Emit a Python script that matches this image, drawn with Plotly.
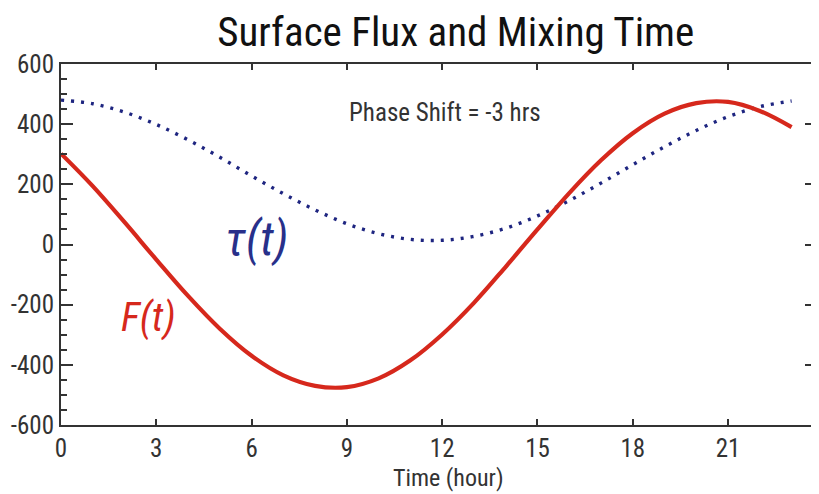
import plotly.graph_objects as go

hours = list(range(0, 24))
flux = [302, 194, 74, -50, -171, -280, -370, -435, -470, -474, -445, -385,
        -299, -194, -74, 50, 171, 280, 370, 435, 470, 474, 444, 390]
tau = [480, 468, 440, 399, 348, 290, 228, 169, 115, 69, 36, 17,
       14, 27, 54, 95, 146, 204, 265, 325, 379, 425, 458, 477]
x_ticks = [0, 3, 6, 9, 12, 15, 18, 21]
y_ticks = [-600, -400, -200, 0, 200, 400, 600]
y_labels = ["-600", "-400", "-200", "0", "200", "400", "600"]

FONT = "Liberation Sans Narrow, Arial Narrow, Roboto Condensed, Liberation Sans, sans-serif"
RED = "#d6281c"
BLUE = "#1e2580"

fig = go.Figure()
fig.add_trace(go.Scatter(x=hours, y=tau, mode="lines", line_shape="spline",
                         line=dict(color=BLUE, width=3.4, dash="3px,7px"), showlegend=False))
fig.add_trace(go.Scatter(x=hours, y=flux, mode="lines", line_shape="spline",
                         line=dict(color=RED, width=4.2), showlegend=False))

fig.add_annotation(x=12.09, y=439, xref="x", yref="y", text="Phase Shift = -3 hrs",
                   showarrow=False, font=dict(family=FONT, size=25, color="#333333"))
fig.add_annotation(x=6.14, y=17, xref="x", yref="y", text="<i>τ(t)</i>",
                   showarrow=False, font=dict(family=FONT, size=47, color="#28308a"))
fig.add_annotation(x=2.74, y=-243, xref="x", yref="y", text="<i>F(t)</i>",
                   showarrow=False, font=dict(family=FONT, size=40, color=RED))
fig.add_annotation(x=0.513, y=-0.147, xref="paper", yref="paper", text="Time (hour)",
                   xanchor="center", yanchor="middle", showarrow=False,
                   font=dict(family=FONT, size=24, color="#333333"))

# page body has an 8px margin, so the figure is offset by 8px
fig.update_layout(
    width=811, height=486,
    margin=dict(l=53, r=2, t=56, b=69),
    paper_bgcolor="white", plot_bgcolor="white",
    title=dict(text="Surface Flux and Mixing Time", x=0.552, xanchor="center",
               y=0.952, yanchor="middle",
               font=dict(family=FONT, size=41, color="#111111")),
    font=dict(family=FONT, color="#333333"),
)
fig.update_xaxes(range=[0, 23.8], tickvals=x_ticks, ticks="inside", ticklen=6, tickwidth=2,
                 tickcolor="#333333", showline=True, linecolor="#333333", linewidth=2,
                 mirror="ticks", showgrid=False, zeroline=False, automargin=False,
                 tickfont=dict(family=FONT, size=25, color="#333333"))
fig.update_yaxes(range=[-600, 600], tickvals=y_ticks, ticktext=y_labels, ticks="inside",
                 ticklen=12, tickwidth=2,
                 tickcolor="#333333", showline=True, linecolor="#333333", linewidth=2,
                 mirror="ticks", showgrid=False, zeroline=False, automargin=False,
                 tickfont=dict(family=FONT, size=25, color="#333333"),
                 minor=dict(dtick=50, ticks="inside", ticklen=6, tickwidth=2, tickcolor="#333333"))

fig.write_html("out.html")
